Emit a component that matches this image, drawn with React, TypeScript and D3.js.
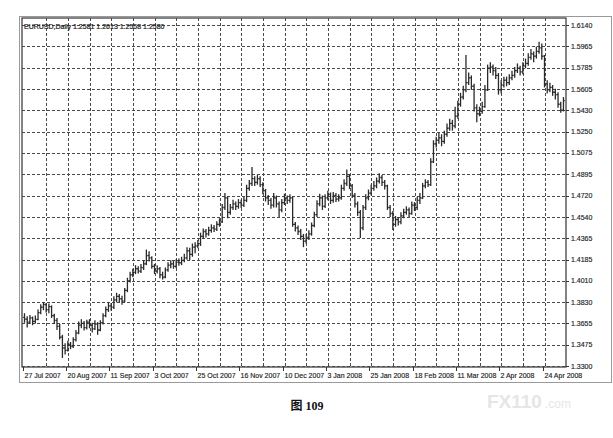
import React from 'react';
import * as d3 from 'd3';

// EURUSD daily bars, 27 Jul 2007 .. early May 2008
const opens = [
  1.3705, 1.3690, 1.3665, 1.3700, 1.3672, 1.3688, 1.3745, 1.3790, 1.3812, 1.3770,
  1.3795, 1.3720, 1.3680, 1.3630, 1.3540, 1.3450, 1.3430, 1.3480, 1.3465, 1.3520,
  1.3575, 1.3640, 1.3655, 1.3620, 1.3665, 1.3640, 1.3610, 1.3650, 1.3600, 1.3660,
  1.3720, 1.3770, 1.3800, 1.3790, 1.3850, 1.3880, 1.3860, 1.3840, 1.3930, 1.4010,
  1.4060, 1.4080, 1.4110, 1.4090, 1.4120, 1.4150, 1.4220, 1.4200, 1.4130, 1.4090,
  1.4110, 1.4060, 1.4040, 1.4100, 1.4140, 1.4150, 1.4130, 1.4165, 1.4160, 1.4180,
  1.4200, 1.4260, 1.4230, 1.4290, 1.4300, 1.4320, 1.4380, 1.4420, 1.4400, 1.4430,
  1.4450, 1.4440, 1.4480, 1.4500, 1.4620, 1.4700, 1.4580, 1.4620, 1.4650, 1.4630,
  1.4660, 1.4640, 1.4680, 1.4780, 1.4820, 1.4860, 1.4830, 1.4860, 1.4810, 1.4760,
  1.4700, 1.4680, 1.4640, 1.4700, 1.4650, 1.4600, 1.4660, 1.4700, 1.4680, 1.4700,
  1.4480, 1.4450, 1.4420, 1.4380, 1.4340, 1.4370, 1.4400, 1.4470, 1.4560, 1.4650,
  1.4700, 1.4630, 1.4700, 1.4730, 1.4680, 1.4720, 1.4690, 1.4700, 1.4780, 1.4820,
  1.4880, 1.4800, 1.4720, 1.4650, 1.4580, 1.4450, 1.4620, 1.4700, 1.4740, 1.4780,
  1.4800, 1.4840, 1.4870, 1.4830, 1.4800, 1.4620, 1.4570, 1.4480, 1.4520, 1.4500,
  1.4550, 1.4580, 1.4600, 1.4570, 1.4640, 1.4620, 1.4680, 1.4700, 1.4800, 1.4830,
  1.4810, 1.5000, 1.5150, 1.5180, 1.5200, 1.5170, 1.5230, 1.5280, 1.5320, 1.5300,
  1.5380, 1.5480, 1.5540, 1.5600, 1.5660, 1.5700, 1.5630, 1.5450, 1.5400, 1.5420,
  1.5460, 1.5600, 1.5780, 1.5790, 1.5760, 1.5720, 1.5600, 1.5640, 1.5680, 1.5660,
  1.5700, 1.5720, 1.5760, 1.5780, 1.5750, 1.5800, 1.5820, 1.5870, 1.5900, 1.5880,
  1.5920, 1.5950, 1.5880, 1.5650, 1.5600, 1.5620, 1.5580, 1.5560, 1.5480, 1.5430,
];
const highs = [
  1.3740, 1.3715, 1.3725, 1.3712, 1.3720, 1.3770, 1.3815, 1.3832, 1.3825, 1.3820,
  1.3805, 1.3735, 1.3700, 1.3650, 1.3560, 1.3490, 1.3510, 1.3500, 1.3540, 1.3600,
  1.3670, 1.3690, 1.3675, 1.3685, 1.3690, 1.3660, 1.3680, 1.3665, 1.3680, 1.3740,
  1.3795, 1.3830, 1.3825, 1.3880, 1.3910, 1.3900, 1.3885, 1.3950, 1.4035, 1.4085,
  1.4110, 1.4140, 1.4130, 1.4150, 1.4180, 1.4270, 1.4255, 1.4215, 1.4150, 1.4140,
  1.4125, 1.4085, 1.4120, 1.4165, 1.4180, 1.4175, 1.4190, 1.4195, 1.4210, 1.4235,
  1.4290, 1.4285, 1.4320, 1.4330, 1.4350, 1.4410, 1.4445, 1.4440, 1.4460, 1.4480,
  1.4475, 1.4505, 1.4530, 1.4650, 1.4740, 1.4710, 1.4650, 1.4685, 1.4670, 1.4690,
  1.4685, 1.4710, 1.4810, 1.4850, 1.4957, 1.4880, 1.4890, 1.4880, 1.4830, 1.4775,
  1.4725, 1.4700, 1.4740, 1.4720, 1.4670, 1.4690, 1.4735, 1.4720, 1.4730, 1.4710,
  1.4500, 1.4470, 1.4440, 1.4400, 1.4400, 1.4430, 1.4495, 1.4585, 1.4680, 1.4735,
  1.4720, 1.4730, 1.4760, 1.4745, 1.4750, 1.4740, 1.4730, 1.4810, 1.4855, 1.4937,
  1.4895, 1.4815, 1.4740, 1.4670, 1.4600, 1.4640, 1.4730, 1.4770, 1.4810, 1.4840,
  1.4870, 1.4905, 1.4890, 1.4850, 1.4810, 1.4640, 1.4590, 1.4550, 1.4540, 1.4580,
  1.4610, 1.4630, 1.4620, 1.4670, 1.4665, 1.4710, 1.4740, 1.4825, 1.4855, 1.4850,
  1.5030, 1.5180, 1.5210, 1.5240, 1.5230, 1.5260, 1.5320, 1.5360, 1.5350, 1.5460,
  1.5510, 1.5575, 1.5635, 1.5890, 1.5745, 1.5720, 1.5650, 1.5480, 1.5460, 1.5500,
  1.5640, 1.5810, 1.5830, 1.5810, 1.5790, 1.5740, 1.5680, 1.5710, 1.5710, 1.5730,
  1.5760, 1.5790, 1.5820, 1.5800, 1.5830, 1.5860, 1.5905, 1.5940, 1.5920, 1.5960,
  1.6000, 1.5985, 1.5890, 1.5680, 1.5660, 1.5640, 1.5610, 1.5580, 1.5500, 1.5540,
];
const lows = [
  1.3660, 1.3620, 1.3650, 1.3640, 1.3655, 1.3680, 1.3730, 1.3765, 1.3745, 1.3740,
  1.3700, 1.3650, 1.3600, 1.3520, 1.3367, 1.3395, 1.3420, 1.3440, 1.3450, 1.3505,
  1.3565, 1.3615, 1.3595, 1.3605, 1.3615, 1.3580, 1.3600, 1.3560, 1.3590, 1.3645,
  1.3705, 1.3750, 1.3760, 1.3775, 1.3830, 1.3830, 1.3810, 1.3830, 1.3915, 1.3995,
  1.4040, 1.4065, 1.4070, 1.4075, 1.4100, 1.4140, 1.4170, 1.4110, 1.4065, 1.4070,
  1.4030, 1.4020, 1.4030, 1.4085, 1.4115, 1.4110, 1.4115, 1.4135, 1.4140, 1.4165,
  1.4185, 1.4180, 1.4210, 1.4240, 1.4280, 1.4300, 1.4360, 1.4370, 1.4385, 1.4410,
  1.4415, 1.4425, 1.4460, 1.4490, 1.4600, 1.4530, 1.4560, 1.4600, 1.4600, 1.4610,
  1.4615, 1.4625, 1.4665, 1.4760, 1.4800, 1.4800, 1.4810, 1.4790, 1.4730, 1.4670,
  1.4640, 1.4610, 1.4620, 1.4620, 1.4540, 1.4580, 1.4640, 1.4650, 1.4660, 1.4460,
  1.4420, 1.4390, 1.4350, 1.4290, 1.4320, 1.4350, 1.4385, 1.4455, 1.4540, 1.4630,
  1.4600, 1.4615, 1.4680, 1.4650, 1.4660, 1.4665, 1.4670, 1.4685, 1.4760, 1.4800,
  1.4775, 1.4700, 1.4620, 1.4550, 1.4366, 1.4430, 1.4600, 1.4680, 1.4720, 1.4760,
  1.4780, 1.4820, 1.4800, 1.4770, 1.4600, 1.4540, 1.4433, 1.4460, 1.4470, 1.4480,
  1.4530, 1.4560, 1.4540, 1.4560, 1.4590, 1.4600, 1.4650, 1.4690, 1.4780, 1.4790,
  1.4800, 1.4990, 1.5120, 1.5150, 1.5130, 1.5150, 1.5210, 1.5260, 1.5260, 1.5280,
  1.5360, 1.5460, 1.5520, 1.5580, 1.5640, 1.5600, 1.5420, 1.5330, 1.5380, 1.5400,
  1.5450, 1.5590, 1.5740, 1.5720, 1.5690, 1.5560, 1.5570, 1.5620, 1.5630, 1.5640,
  1.5680, 1.5700, 1.5740, 1.5720, 1.5730, 1.5780, 1.5800, 1.5850, 1.5830, 1.5860,
  1.5900, 1.5850, 1.5620, 1.5570, 1.5580, 1.5550, 1.5520, 1.5450, 1.5410, 1.5420,
];
const closes = [
  1.3690, 1.3665, 1.3700, 1.3672, 1.3688, 1.3745, 1.3790, 1.3812, 1.3770, 1.3795,
  1.3720, 1.3680, 1.3630, 1.3540, 1.3450, 1.3430, 1.3480, 1.3465, 1.3520, 1.3575,
  1.3640, 1.3655, 1.3620, 1.3665, 1.3640, 1.3610, 1.3650, 1.3600, 1.3660, 1.3720,
  1.3770, 1.3800, 1.3790, 1.3850, 1.3880, 1.3860, 1.3840, 1.3930, 1.4010, 1.4060,
  1.4080, 1.4110, 1.4090, 1.4120, 1.4150, 1.4220, 1.4200, 1.4130, 1.4090, 1.4110,
  1.4060, 1.4040, 1.4100, 1.4140, 1.4150, 1.4130, 1.4165, 1.4160, 1.4180, 1.4200,
  1.4260, 1.4230, 1.4290, 1.4300, 1.4320, 1.4380, 1.4420, 1.4400, 1.4430, 1.4450,
  1.4440, 1.4480, 1.4500, 1.4620, 1.4700, 1.4580, 1.4620, 1.4650, 1.4630, 1.4660,
  1.4640, 1.4680, 1.4780, 1.4820, 1.4860, 1.4830, 1.4860, 1.4810, 1.4760, 1.4700,
  1.4680, 1.4640, 1.4700, 1.4650, 1.4600, 1.4660, 1.4700, 1.4680, 1.4700, 1.4480,
  1.4450, 1.4420, 1.4380, 1.4340, 1.4370, 1.4400, 1.4470, 1.4560, 1.4650, 1.4700,
  1.4630, 1.4700, 1.4730, 1.4680, 1.4720, 1.4690, 1.4700, 1.4780, 1.4820, 1.4880,
  1.4800, 1.4720, 1.4650, 1.4580, 1.4450, 1.4620, 1.4700, 1.4740, 1.4780, 1.4800,
  1.4840, 1.4870, 1.4830, 1.4800, 1.4620, 1.4570, 1.4480, 1.4520, 1.4500, 1.4550,
  1.4580, 1.4600, 1.4570, 1.4640, 1.4620, 1.4680, 1.4700, 1.4800, 1.4830, 1.4810,
  1.5000, 1.5150, 1.5180, 1.5200, 1.5170, 1.5230, 1.5280, 1.5320, 1.5300, 1.5380,
  1.5480, 1.5540, 1.5600, 1.5660, 1.5700, 1.5630, 1.5450, 1.5400, 1.5420, 1.5460,
  1.5600, 1.5780, 1.5790, 1.5760, 1.5720, 1.5600, 1.5640, 1.5680, 1.5660, 1.5700,
  1.5720, 1.5760, 1.5780, 1.5750, 1.5800, 1.5820, 1.5870, 1.5900, 1.5880, 1.5920,
  1.5950, 1.5880, 1.5650, 1.5600, 1.5620, 1.5580, 1.5560, 1.5480, 1.5430, 1.5510,
];

const priceTicks = [
  1.614, 1.5965, 1.5785, 1.5605, 1.543, 1.525, 1.5075, 1.4895, 1.472,
  1.454, 1.4365, 1.4185, 1.401, 1.383, 1.3655, 1.3475, 1.33,
];
const dateLabels = [
  '27 Jul 2007', '20 Aug 2007', '11 Sep 2007', '3 Oct 2007', '25 Oct 2007',
  '16 Nov 2007', '10 Dec 2007', '3 Jan 2008', '25 Jan 2008', '18 Feb 2008',
  '11 Mar 2008', '2 Apr 2008', '24 Apr 2008',
];
const barsPerLabel = 16;
const barsPerGrid = 8;
const titleText = 'EURUSD,Daily  1.2581 1.2613 1.2558 1.2580';

const W = 613;
const H = 438;
const plot = { left: 22, right: 566, top: 18, bottom: 367 };
const font = '"Liberation Sans", Arial, sans-serif';

export default function App() {
  const x = d3.scaleLinear().domain([0, 192]).range([24.5, 544.5]);
  const y = d3.scaleLinear().domain([1.33, 1.614]).range([366, 25]);

  const gridXs = d3.range(barsPerGrid, 200, barsPerGrid).map((i) => x(i));
  const ink = '#2a2a2a';

  return (
    <svg
      width={W}
      height={H}
      style={{ position: 'absolute', left: 0, top: 0, background: '#fff' }}
    >
      {/* outer frame */}
      <rect x={19.5} y={16.5} width={592} height={366} fill="none" stroke="#9a9a9a" />
      <rect x={plot.left} y={plot.top} width={plot.right - plot.left} height={plot.bottom - plot.top} fill="none" stroke="#333" strokeWidth={1.2} />

      {/* grid */}
      {priceTicks.map((p) => (
        <line key={'h' + p} x1={plot.left} x2={plot.right} y1={Math.round(y(p)) + 0.5} y2={Math.round(y(p)) + 0.5}
          stroke="#4a4a4a" strokeWidth={1} strokeDasharray="3,2" />
      ))}
      {gridXs.map((gx, i) => (
        <line key={'v' + i} x1={Math.round(gx) + 0.5} x2={Math.round(gx) + 0.5} y1={plot.top} y2={plot.bottom}
          stroke="#4a4a4a" strokeWidth={1} strokeDasharray="3,2" />
      ))}

      {/* OHLC bars */}
      {closes.map((c, i) => {
        const cx = x(i);
        return (
          <g key={i} stroke={ink} strokeWidth={1.3}>
            <line x1={cx} x2={cx} y1={y(highs[i])} y2={y(lows[i])} />
            <line x1={cx - 1.3} x2={cx} y1={y(opens[i])} y2={y(opens[i])} />
            <line x1={cx} x2={cx + 1.3} y1={y(c)} y2={y(c)} />
          </g>
        );
      })}

      {/* title */}
      <text x={24} y={29} fontFamily={font} fontSize={7} fill="#222" stroke="#222" strokeWidth={0.2}>{titleText}</text>

      {/* price axis */}
      {priceTicks.map((p) => (
        <g key={'t' + p}>
          <line x1={plot.right} x2={plot.right + 3} y1={Math.round(y(p)) + 0.5} y2={Math.round(y(p)) + 0.5} stroke="#333" />
          <text x={571} y={y(p) + 2.5} fontFamily={font} fontSize={7} fill="#222" stroke="#222" strokeWidth={0.15}>{p.toFixed(4)}</text>
        </g>
      ))}

      {/* date axis */}
      {dateLabels.map((d, i) => {
        const tx = Math.round(x(i * barsPerLabel)) - 1.5;
        return (
          <g key={d}>
            <line x1={tx} x2={tx} y1={plot.bottom} y2={plot.bottom + 4} stroke="#333" />
            <text x={tx + 1} y={378} fontFamily={font} fontSize={7} fill="#222" stroke="#222" strokeWidth={0.15}>{d}</text>
          </g>
        );
      })}

      {/* caption */}
      <text x={307} y={410} textAnchor="middle" fontFamily='"Liberation Serif", "Noto Sans CJK SC", serif'
        fontWeight="bold" fontSize={12} fill="#111">图 109</text>

      {/* watermark */}
      <text x={487} y={408} fontFamily={font} fontWeight="bold" fontSize={19} fill="#e6e6e6">FX110</text>
      <text x={545} y={408} fontFamily={font} fontSize={12} fill="#e6e6e6">.com</text>
    </svg>
  );
}
